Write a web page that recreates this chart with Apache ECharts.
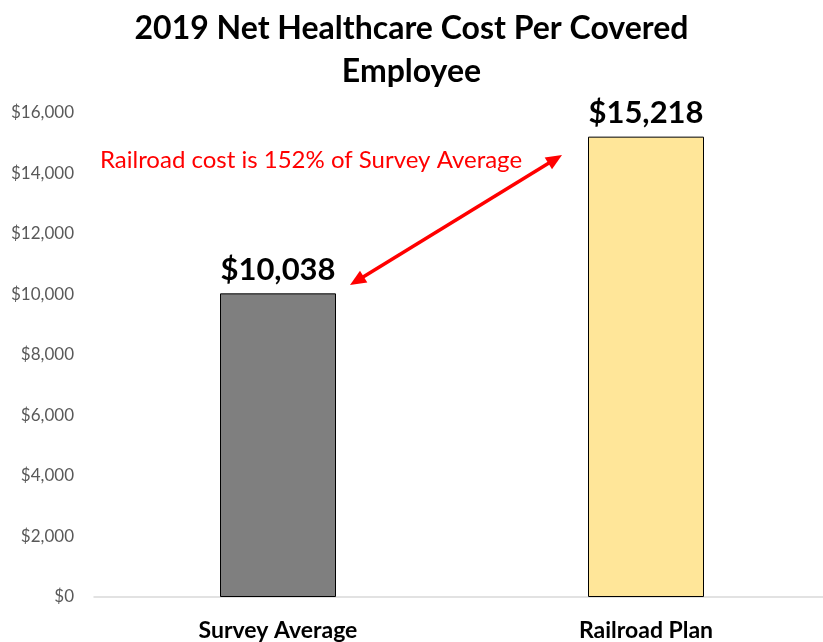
<!DOCTYPE html>
<html>
<head>
<meta charset="utf-8">
<script src="https://cdn.jsdelivr.net/npm/echarts@6/dist/echarts.min.js"></script>
<style>
  html, body { margin: 0; padding: 0; background: #fff; }
  #chart { width: 823px; height: 642px; }
</style>
</head>
<body>
<div id="chart"></div>
<script>
// Net healthcare cost per covered employee, 2019
const categories = ['Survey Average', 'Railroad Plan'];
const costs = [10038, 15218];
const barColors = ['#7f7f7f', '#ffe699'];
const yTicks = { min: 0, max: 16000, interval: 2000 };
const titleText = '2019 Net Healthcare Cost Per Covered\nEmployee';
const noteText = 'Railroad cost is 152% of Survey Average';

const FONT = 'Lato, "Open Sans", sans-serif';
const fmtMoney = v => '$' + Math.round(v).toLocaleString('en-US');

const chart = echarts.init(document.getElementById('chart'));

// Categories sit at integer positions on a numeric x scale so the
// right-hand slot can run past the visible edge.
const catIdx = categories.map((_, i) => i);

chart.setOption({
  animation: false,
  backgroundColor: '#ffffff',
  title: {
    text: titleText,
    left: 'center',
    top: 2,
    textStyle: { fontFamily: FONT, fontWeight: 'bold', fontSize: 32, color: '#000', lineHeight: 43 }
  },
  grid: { left: 94, right: 0, top: 113, bottom: 45, containLabel: false },
  xAxis: {
    type: 'value',
    min: -0.5,
    max: -0.5 + 729 / 368,
    splitLine: { show: false },
    axisTick: { show: false },
    axisLine: { show: true, onZero: false, lineStyle: { color: '#d9d9d9', width: 1.5 } },
    axisLabel: {
      customValues: catIdx,
      margin: 22,
      fontFamily: FONT, fontWeight: 'bold', fontSize: 23, color: '#000',
      formatter: v => categories[Math.round(v)] || ''
    }
  },
  yAxis: {
    type: 'value',
    min: yTicks.min,
    max: yTicks.max,
    interval: yTicks.interval,
    axisLine: { show: false },
    axisTick: { show: false },
    splitLine: { show: false },
    axisLabel: { margin: 20, fontFamily: FONT, fontSize: 17, color: '#595959', formatter: fmtMoney }
  },
  series: [{
    type: 'bar',
    barWidth: 116,
    data: costs.map((v, i) => ({
      value: [catIdx[i], v],
      itemStyle: { color: barColors[i], borderColor: '#000', borderWidth: 1 }
    })),
    label: {
      show: true,
      position: 'top',
      distance: 8,
      fontFamily: FONT,
      fontWeight: 'bold',
      fontSize: 31,
      color: '#000',
      formatter: p => fmtMoney(p.value[1])
    }
  }]
});

// Comparison arrow and note, positioned from the axes
function drawOverlay() {
  const p1 = chart.convertToPixel({ gridIndex: 0 }, [0, 10314]);
  const p2 = chart.convertToPixel({ gridIndex: 0 }, [1, 14612]);
  const a = [p1[0] + 72, p1[1]];
  const b = [p2[0] - 84, p2[1]];
  const ang = Math.atan2(b[1] - a[1], b[0] - a[0]);
  const head = (tip, dir) => {
    const L = 16, W = 7;
    const ux = Math.cos(dir), uy = Math.sin(dir);
    const bx = tip[0] - ux * L, by = tip[1] - uy * L;
    return [tip, [bx - uy * W, by + ux * W], [bx + uy * W, by - ux * W]];
  };
  const shrink = 12;
  const a2 = [a[0] + Math.cos(ang) * shrink, a[1] + Math.sin(ang) * shrink];
  const b2 = [b[0] - Math.cos(ang) * shrink, b[1] - Math.sin(ang) * shrink];
  const notePos = chart.convertToPixel({ gridIndex: 0 }, [0, 14446]);
  chart.setOption({
    graphic: [
      { type: 'line', silent: true, shape: { x1: a2[0], y1: a2[1], x2: b2[0], y2: b2[1] },
        style: { stroke: '#ff0000', lineWidth: 3.5 } },
      { type: 'polygon', silent: true, shape: { points: head(b, ang) }, style: { fill: '#ff0000' } },
      { type: 'polygon', silent: true, shape: { points: head(a, ang + Math.PI) }, style: { fill: '#ff0000' } },
      { type: 'text', silent: true, x: notePos[0] + 33, y: notePos[1],
        style: { text: noteText, fill: '#ff0000', font: '24px ' + FONT, align: 'center', verticalAlign: 'middle' } }
    ]
  });
}
drawOverlay();
</script>
</body>
</html>
